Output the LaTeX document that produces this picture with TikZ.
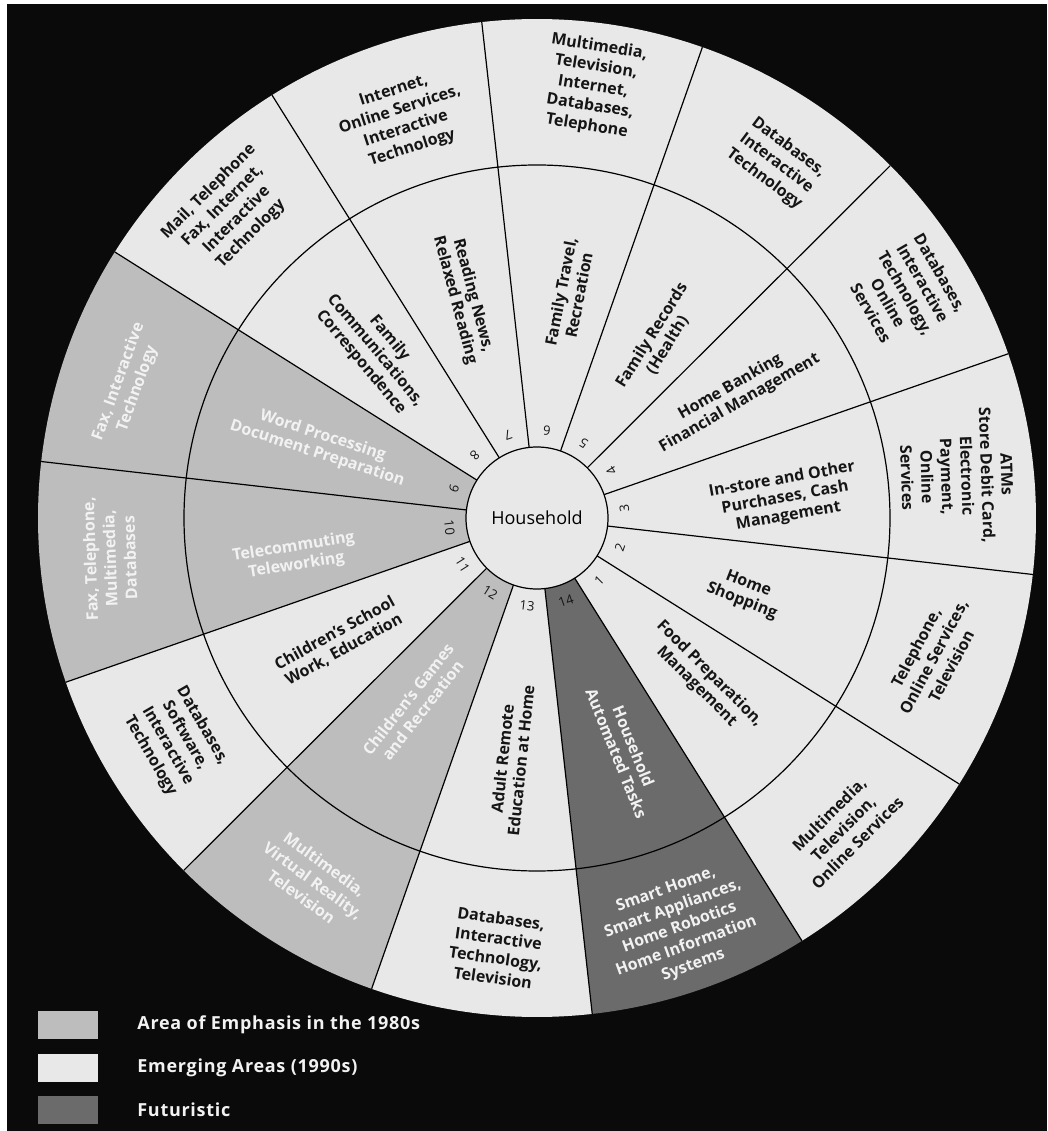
\documentclass[tikz,border=0pt]{standalone}
\usepackage{fontspec}
\setmainfont{Open Sans}
\newfontfamily\keyfont{Open Sans}[LetterSpace=4]
\usetikzlibrary{positioning}

\definecolor{emphgray}{HTML}{BDBDBD}
\definecolor{emerggray}{HTML}{E8E8E8}
\definecolor{futgray}{HTML}{6B6B6B}
\definecolor{bgblack}{HTML}{0A0A0A}
\definecolor{inkdark}{HTML}{151515}
\definecolor{inklight}{HTML}{F2F2F2}

\begin{document}
\begin{tikzpicture}[x=1pt, y=1pt,
    spoke/.style={line width=1.2pt, draw=black},
    ring/.style={line width=1.2pt, draw=black},
    txt/.style={font=\bfseries\fontsize{16}{18.5}\selectfont, align=center, inner sep=0pt, text=inkdark},
    txtw/.style={txt, text=inklight},
    outtxt/.style={txt, font=\bfseries\fontsize{16}{20}\selectfont},
    outtxtw/.style={outtxt, text=inklight},
    num/.style={font=\fontsize{13}{13}\selectfont, inner sep=0pt, text=inkdark},
    hub/.style={draw=black, line width=1.2pt, circle, fill=emerggray, minimum size=142pt, inner sep=0pt, font=\fontsize{18}{18}\selectfont},
    keybox/.style={minimum width=60pt, minimum height=28pt, inner sep=0pt},
    keytext/.style={font=\keyfont\bfseries\fontsize{18}{18}\selectfont, text=inklight, inner sep=0pt}]

  % frame
  \useasboundingbox (-537,518) rectangle (510,-613);
  \fill[white] (-537,518) rectangle (510,-613);
  \fill[bgblack] (-530,514) rectangle (510,-613);

  % wedges
  \foreach \n/\col in {1/emerggray, 2/emerggray, 3/emerggray, 4/emerggray, 5/emerggray,
      6/emerggray, 7/emerggray, 8/emerggray, 9/emphgray, 10/emphgray, 11/emerggray,
      12/emphgray, 13/emerggray, 14/futgray} {
    \pgfmathsetmacro\a{-6.5+(\n-3)*360/14}
    \pgfmathsetmacro\b{\a+360/14}
    \fill[\col] (0,0) -- (\a:499) arc[start angle=\a, end angle=\b, radius=499] -- cycle;
  }

  % spokes and middle ring
  \foreach \k in {0,...,13} {
    \pgfmathsetmacro\a{-6.5+\k*360/14}
    \draw[spoke] (\a:71) -- (\a:499);
  }
  \draw[ring] (0,0) circle[radius=353];

  \node[hub] (hub) at (0,0) {Household};

  % numbers round the hub
  \foreach \n in {1,...,14} {
    \pgfmathsetmacro\c{6.357+(\n-3)*360/14}
    \pgfmathsetmacro\r{\c+90}
    \node[num, rotate=\r] (n\n) at (\c:88) {\n};
  }

  % inner ring
  \node[txt, rotate=-45] (in1) at (-44.3:232) {Food Preparation,\\Management};
  \node[txt, rotate=-21] (in2) at (-19.8:221) {Home\\Shopping};
  \node[txt, rotate=10] (in3) at (4.6:249) {In-store and Other\\Purchases, Cash\\Management};
  \node[txt, rotate=30] (in4) at (31.8:233) {Home Banking\\Financial Management};
  \node[txt, rotate=58] (in5) at (55.4:216) {Family Records\\(Health)};
  \node[txt, rotate=79] (in6) at (81.7:227) {Family Travel,\\Recreation};
  \node[txt, rotate=-75] (in7) at (108.4:232) {Reading News,\\Relaxed Reading};
  \node[txt, rotate=-50] (in8) at (134:233) {Family\\Communications,\\Correspondence};
  \node[txtw, rotate=-18] (in9) at (161.4:229) {Word Processing\\Document Preparation};
  \node[txtw, rotate=9] (in10) at (189:245) {Telecommuting\\Teleworking};
  \node[txt, rotate=29] (in11) at (212:233) {Children's School\\Work, Education};
  \node[txtw, rotate=52] (in12) at (236.9:223) {Children's Games\\and Recreation};
  \node[txt, rotate=84] (in13) at (264:243) {Adult Remote\\Education at Home};
  \node[txtw, rotate=-68] (in14) at (-69.2:248) {Household\\Automated Tasks};

  % outer ring
  \node[outtxt, rotate=45] (out1) at (-45.4:436) {Multimedia,\\Television,\\Online Services};
  \node[outtxt, rotate=62] (out2) at (-19.3:420) {Telephone,\\Online Services,\\Television};
  \node[outtxt, rotate=-88] (out3) at (5.7:422) {ATMs\\Store Debit Card,\\Electronic\\Payment,\\Online\\Services};
  \node[outtxt, rotate=-60] (out4) at (31.4:432) {Databases,\\Interactive\\Technology,\\Online\\Services};
  \node[outtxt, rotate=-37] (out5) at (56:428) {Databases,\\Interactive\\Technology};
  \node[outtxt, rotate=-9] (out6) at (82.6:435) {Multimedia,\\Television,\\Internet,\\Databases,\\Telephone};
  \node[outtxt, rotate=18] (out7) at (108.6:420) {Internet,\\Online Services,\\Interactive\\Technology};
  \node[outtxt, rotate=45] (out8) at (135.2:433) {Mail, Telephone\\Fax, Internet,\\Interactive\\Technology};
  \node[outtxtw, rotate=70] (out9) at (162:430) {Fax, Interactive\\Technology};
  \node[outtxtw, rotate=92] (out10) at (185.4:429) {Fax, Telephone,\\Multimedia,\\Databases};
  \node[outtxt, rotate=-60] (out11) at (211.7:424) {Databases,\\Software,\\Interactive\\Technology};
  \node[outtxtw, rotate=-36] (out12) at (238.3:426) {Multimedia,\\Virtual Reality,\\Television};
  \node[outtxt, rotate=-8] (out13) at (264.7:432) {Databases,\\Interactive\\Technology,\\Television};
  \node[outtxtw, rotate=20] (out14) at (-70.8:434) {Smart Home,\\Smart Appliances,\\Home Robotics\\Home Information\\Systems};

  % legend
  \node[keybox, fill=emphgray] (k1) at (-469,-507) {};
  \node[keybox, fill=emerggray] (k2) at (-469,-550) {};
  \node[keybox, fill=futgray] (k3) at (-469,-592) {};
  \node[keytext, right=39pt of k1] (t1) {Area of Emphasis in the 1980s};
  \node[keytext, right=39pt of k2] (t2) {Emerging Areas (1990s)};
  \node[keytext, right=39pt of k3] (t3) {Futuristic};
\end{tikzpicture}
\end{document}
